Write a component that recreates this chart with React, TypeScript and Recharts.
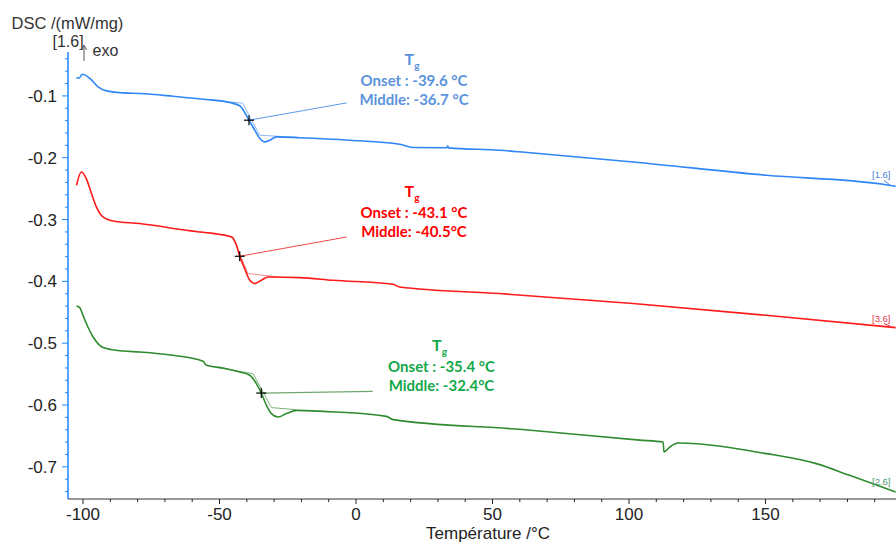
import React from 'react';
import { ComposedChart, Line, XAxis, YAxis, ReferenceDot } from 'recharts';

// ---- data (temperature °C, DSC mW/mg) ----
const blueTemp = [-102.4,-101.5,-100.2,-97.5,-94.5,-91.4,-85.3,-79.2,-67.0,-54.8,-46.3,-42.6,-39.2,-37.1,-35.3,-33.4,-31.6,-29.2,-20.6,-2.3,16.0,20.8,33.2,33.6,34.0,52.6,61.8,101.5,150.3,193.0,197.7];
const blueDsc = [-0.0702,-0.0714,-0.0649,-0.0718,-0.0854,-0.0919,-0.0951,-0.0961,-0.1005,-0.1058,-0.1107,-0.1159,-0.1393,-0.1555,-0.1684,-0.1744,-0.1717,-0.1663,-0.1676,-0.1717,-0.1782,-0.1835,-0.1838,-0.1812,-0.1840,-0.1879,-0.1911,-0.2068,-0.2283,-0.2429,-0.2461];

const redTemp = [-102.4,-100.6,-98.8,-96.9,-95.1,-92.7,-89.0,-79.3,-62.1,-57.3,-49.9,-45.6,-43.8,-42.6,-40.8,-38.9,-37.1,-34.7,-32.2,-20.6,-8.4,13.6,16.0,52.6,101.5,150.3,197.7];
const redDsc = [-0.2445,-0.2230,-0.2337,-0.2579,-0.2796,-0.2958,-0.3023,-0.3065,-0.3173,-0.3201,-0.3238,-0.3282,-0.3416,-0.3594,-0.3793,-0.3982,-0.4036,-0.3982,-0.3929,-0.3939,-0.3982,-0.4047,-0.4091,-0.4197,-0.4359,-0.4549,-0.4748];

const greenTemp = [-102.4,-101.2,-100.0,-98.2,-96.3,-93.9,-91.4,-85.3,-79.2,-67.0,-56.0,-54.8,-48.7,-42.6,-38.9,-36.5,-34.7,-32.8,-31.0,-28.6,-25.5,-21.8,-7.2,11.1,13.6,59.9,103.9,112.5,112.8,114.9,117.9,150.3,168.6,180.8,197.7];
const greenDsc = [-0.4398,-0.4424,-0.4549,-0.4738,-0.4900,-0.5034,-0.5087,-0.5126,-0.5142,-0.5196,-0.5293,-0.5358,-0.5401,-0.5466,-0.5519,-0.5654,-0.5806,-0.6005,-0.6139,-0.6194,-0.6139,-0.6086,-0.6113,-0.6183,-0.6236,-0.6393,-0.6567,-0.6599,-0.6761,-0.6680,-0.6615,-0.6786,-0.6948,-0.7137,-0.7408];

// tangent constructions
const blueTanTemp = [-55, -41.5, -35.3, -20];
const blueTanDsc = [-0.1058, -0.1118, -0.1636, -0.1676];
const redTanTemp = [-57, -45.1, -39.6, -28];
const redTanDsc = [-0.3201, -0.3282, -0.3874, -0.3930];
const greenTanTemp = [-50, -37.7, -31.0, -21.8];
const greenTanDsc = [-0.5401, -0.5492, -0.6042, -0.6075];

// leader lines from onset marker to annotation
const blueLeadTemp = [-39.2, -3.4];
const blueLeadDsc = [-0.1393, -0.1113];
const redLeadTemp = [-42.6, -3.4];
const redLeadDsc = [-0.3594, -0.3282];
const greenLeadTemp = [-34.7, 6.1];
const greenLeadDsc = [-0.5806, -0.5778];

// onset markers (+)
const markerTemp = [-39.2, -42.6, -34.7];
const markerDsc = [-0.1393, -0.3594, -0.5806];

const xTicks = [-100,-90,-80,-70,-60,-50,-40,-30,-20,-10,0,10,20,30,40,50,60,70,80,90,100,110,120,130,140,150,160,170,180,190];
const yTicks = [-0.74,-0.72,-0.7,-0.68,-0.66,-0.64,-0.62,-0.6,-0.58,-0.56,-0.54,-0.52,-0.5,-0.48,-0.46,-0.44,-0.42,-0.4,-0.38,-0.36,-0.34,-0.32,-0.3,-0.28,-0.26,-0.24,-0.22,-0.2,-0.18,-0.16,-0.14,-0.12,-0.1,-0.08,-0.06,-0.04];

const zip = (t: number[], v: number[]) => t.map((x, i) => ({ t: x, v: v[i] }));

const BLUE = '#2F86F6';
const RED = '#FF1A1A';
const GREEN = '#2E8B2E';
const BLUE_TXT = '#5B93DC';
const RED_TXT = '#FF0000';
const GREEN_TXT = '#14A84A';
const AXIS_FONT = '"Liberation Sans", Arial, sans-serif';
const ANN_FONT = 'Lato, "Open Sans", sans-serif';

const YTick = (props: any) => {
  const { x, y, payload } = props;
  const v = payload.value as number;
  const major = Math.abs(v * 10 - Math.round(v * 10)) < 1e-6;
  return (
    <g>
      <line x1={x - (major ? 6 : 3)} x2={x} y1={y} y2={y} stroke="#1E88FF" strokeWidth={1} />
      {major && (
        <text x={x - 11} y={y} dy={6} textAnchor="end" fontSize={17} fontFamily={AXIS_FONT} fill="#222">
          {v.toFixed(1)}
        </text>
      )}
    </g>
  );
};

const XTick = (props: any) => {
  const { x, y, payload } = props;
  const v = payload.value as number;
  const major = v % 50 === 0;
  return (
    <g>
      <line x1={x} x2={x} y1={y} y2={y + (major ? 5 : 3)} stroke="#222" strokeWidth={1} />
      {major && (
        <text x={x} y={y} dy={21} textAnchor="middle" fontSize={17} fontFamily={AXIS_FONT} fill="#222">
          {String(v)}
        </text>
      )}
    </g>
  );
};

const Cross = (props: any) => {
  const { cx, cy } = props;
  return (
    <g>
      <line x1={cx - 5} x2={cx + 5} y1={cy} y2={cy} stroke="#000" strokeWidth={1.2} />
      <line x1={cx} x2={cx} y1={cy - 5} y2={cy + 5} stroke="#000" strokeWidth={1.2} />
    </g>
  );
};

const Ann = ({ cx, y0, color, onset, middle }: any) => (
  <g fontFamily={ANN_FONT} fontWeight={700} fill={color}>
    <text x={cx - 2} y={y0} textAnchor="middle" fontSize={16}>
      T<tspan fontSize={10} dy={4}>g</tspan>
    </text>
    <text x={cx} y={y0 + 20.5} textAnchor="middle" fontSize={15}>{onset}</text>
    <text x={cx} y={y0 + 40} textAnchor="middle" fontSize={15}>{middle}</text>
  </g>
);

export default function App() {
  return (
    <div style={{ position: 'absolute', left: 0, top: 0, width: 896, height: 543, background: '#fff' }}>
      <ComposedChart width={896} height={543} margin={{ top: 52, right: 0, bottom: 0, left: 0 }}>
        <XAxis
          type="number"
          dataKey="t"
          domain={[-105.5, 197.8]}
          allowDataOverflow
          ticks={xTicks}
          tick={<XTick />}
          tickLine={false}
          tickSize={0}
          tickMargin={0}
          height={44}
          axisLine={{ stroke: '#333', strokeWidth: 1 }}
          interval={0}
        />
        <YAxis
          type="number"
          dataKey="v"
          domain={[-0.752, -0.029]}
          allowDataOverflow
          ticks={yTicks}
          tick={<YTick />}
          tickLine={false}
          tickSize={0}
          tickMargin={0}
          width={68}
          axisLine={{ stroke: '#1E88FF', strokeWidth: 1.5 }}
          interval={0}
        />
        <Line data={zip(blueTanTemp, blueTanDsc)} dataKey="v" type="linear" stroke="#8DB8F2" strokeWidth={1} dot={false} isAnimationActive={false} />
        <Line data={zip(redTanTemp, redTanDsc)} dataKey="v" type="linear" stroke="#F58A8A" strokeWidth={1} dot={false} isAnimationActive={false} />
        <Line data={zip(greenTanTemp, greenTanDsc)} dataKey="v" type="linear" stroke="#7DB07D" strokeWidth={1} dot={false} isAnimationActive={false} />
        <Line data={zip(blueLeadTemp, blueLeadDsc)} dataKey="v" type="linear" stroke="#5D9BEF" strokeWidth={1} dot={false} isAnimationActive={false} />
        <Line data={zip(redLeadTemp, redLeadDsc)} dataKey="v" type="linear" stroke="#F04848" strokeWidth={1} dot={false} isAnimationActive={false} />
        <Line data={zip(greenLeadTemp, greenLeadDsc)} dataKey="v" type="linear" stroke="#6FA86F" strokeWidth={1.2} dot={false} isAnimationActive={false} />
        <Line data={zip(blueTemp, blueDsc)} dataKey="v" type="monotone" stroke={BLUE} strokeWidth={1.6} dot={false} isAnimationActive={false} />
        <Line data={zip(redTemp, redDsc)} dataKey="v" type="monotone" stroke={RED} strokeWidth={1.6} dot={false} isAnimationActive={false} />
        <Line data={zip(greenTemp, greenDsc)} dataKey="v" type="monotone" stroke={GREEN} strokeWidth={1.6} dot={false} isAnimationActive={false} />
        {markerTemp.map((t, i) => (
          <ReferenceDot key={i} x={t} y={markerDsc[i]} r={5} shape={<Cross />} />
        ))}
      </ComposedChart>
      <svg width={896} height={543} style={{ position: 'absolute', left: 0, top: 0, pointerEvents: 'none' }}>
        <g fontFamily={AXIS_FONT} fill="#333">
          <text x={11.5} y={29} fontSize={16.5}>DSC /(mW/mg)</text>
          <text x={52.5} y={46.5} fontSize={16}>[1.6]</text>
          <text x={92.5} y={56} fontSize={16}>exo</text>
          <text x={488} y={539} fontSize={17} textAnchor="middle" fill="#222">Température /°C</text>
        </g>
        <line x1={84} x2={84} y1={46} y2={61} stroke="#555" strokeWidth={1} />
        <path d="M81.5,50 L84,45 L86.5,50" fill="none" stroke="#555" strokeWidth={1} />
        <Ann cx={414} y0={65} color={BLUE_TXT} onset="Onset : -39.6 °C" middle="Middle: -36.7 °C" />
        <Ann cx={414} y0={197} color={RED_TXT} onset="Onset : -43.1 °C" middle="Middle: -40.5°C" />
        <Ann cx={441.5} y0={351} color={GREEN_TXT} onset="Onset : -35.4 °C" middle="Middle: -32.4°C" />
        <g fontFamily={AXIS_FONT} fontSize={9.5}>
          <text x={872} y={178} fill="#4A80D8">[1.6]</text>
          <line x1={884} y1={180.5} x2={890} y2={185} stroke="#4A80D8" strokeWidth={1} />
          <text x={872} y={321.5} fill="#E8384F">[3.6]</text>
          <line x1={884} y1={323.5} x2={892} y2={327} stroke="#E8384F" strokeWidth={1} />
          <text x={872} y={485} fill="#4E9A6A">[2.6]</text>
        </g>
      </svg>
    </div>
  );
}
